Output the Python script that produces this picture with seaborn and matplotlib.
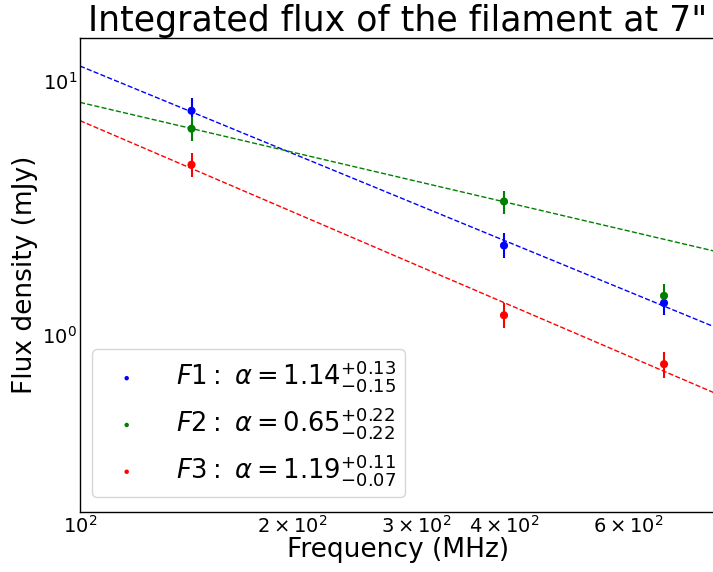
import numpy as np
import pandas as pd
import seaborn as sns
import matplotlib
matplotlib.use("Agg")
import matplotlib.pyplot as plt

# Data
freq = [144, 400, 675]
names = ["F1", "F2", "F3"]
colors = ["blue", "green", "red"]
flux_F1 = [7.6, 2.24, 1.33]
flux_F2 = [6.46, 3.34, 1.42]
flux_F3 = [4.66, 1.19, 0.764]
err_up_F1 = [0.9, 0.26, 0.08]
err_lo_F1 = [0.4, 0.24, 0.14]
err_up_F2 = [0.74, 0.33, 0.16]
err_lo_F2 = [0.66, 0.35, 0.09]
err_up_F3 = [0.53, 0.14, 0.087]
err_lo_F3 = [0.48, 0.13, 0.088]
# power-law fit parameters (flux at 100 MHz, spectral index)
fit_amp = [11.4, 8.2, 6.95]
fit_alpha = [1.14, 0.65, 1.19]
labels = [r"$F1:\ \alpha=1.14^{+0.13}_{-0.15}$",
          r"$F2:\ \alpha=0.65^{+0.22}_{-0.22}$",
          r"$F3:\ \alpha=1.19^{+0.11}_{-0.07}$"]

fluxes = [flux_F1, flux_F2, flux_F3]
ups = [err_up_F1, err_up_F2, err_up_F3]
los = [err_lo_F1, err_lo_F2, err_lo_F3]

sns.set_style("white")
plt.rcParams["font.family"] = ["DejaVu Sans"]
plt.rcParams["mathtext.fontset"] = "dejavusans"
for k in ["text.color", "axes.labelcolor", "xtick.color", "ytick.color", "axes.edgecolor"]:
    plt.rcParams[k] = "black"

fig = plt.figure(figsize=(7.13, 5.72), dpi=100)
ax = fig.add_axes([80/713, 60/572, (716-80)/713, (512-38)/572])

nu_grid = np.geomspace(100, 800, 50)
for i in range(3):
    line_df = pd.DataFrame({"nu": nu_grid,
                            "S": fit_amp[i] * (nu_grid / 100.0) ** (-fit_alpha[i])})
    sns.lineplot(data=line_df, x="nu", y="S", ax=ax, color=colors[i],
                 linestyle="--", linewidth=1.0, legend=False)
    ax.errorbar(freq, fluxes[i], yerr=[los[i], ups[i]], fmt="none",
                ecolor=colors[i], elinewidth=1.5)
    pts = pd.DataFrame({"nu": freq, "S": fluxes[i]})
    sns.scatterplot(data=pts, x="nu", y="S", ax=ax, color=colors[i], s=34,
                    edgecolor="none", label=labels[i], zorder=3)

ax.set_xscale("log")
ax.set_yscale("log")
ax.set_xlim(100, 800)
ax.set_ylim(0.2, 14.7)
ax.tick_params(which="both", direction="in", labelsize=14, pad=2)
ax.tick_params(which="major", length=7, width=1)
ax.tick_params(which="minor", length=4, width=0.8)
ax.set_xlabel("Frequency (MHz)", fontsize=19, labelpad=0)
ax.set_ylabel("Flux density (mJy)", fontsize=19, labelpad=3)
ax.set_title('Integrated flux of the filament at 7"', fontsize=25, pad=5)
for sp in ax.spines.values():
    sp.set_color("black")
    sp.set_linewidth(1.0)

leg = ax.legend(loc="lower left", fontsize=18.5, handletextpad=0.9,
                markerscale=0.55, borderpad=0.35, labelspacing=0.42,
                borderaxespad=0, bbox_to_anchor=(12/636, 15/474))

fig.savefig("out.png", dpi=100)
